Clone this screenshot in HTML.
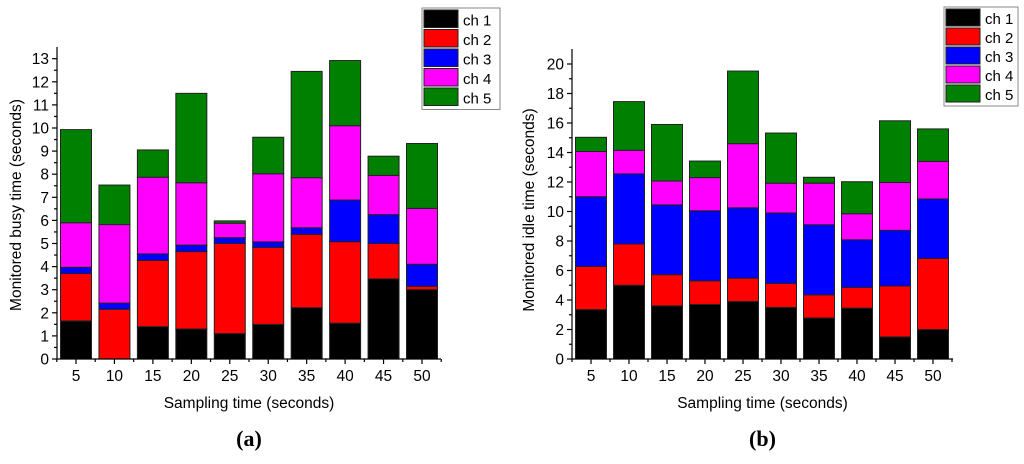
<!DOCTYPE html>
<html><head><meta charset="utf-8"><style>
body{margin:0;background:#fff;width:1024px;height:459px;overflow:hidden}
text{font-family:"Liberation Sans",sans-serif}
</style></head><body>
<svg id="svg" width="1024" height="459"></svg>
<script>
const categories=[5,10,15,20,25,30,35,40,45,50];
const seriesNames=["ch 1","ch 2","ch 3","ch 4","ch 5"];
const colors=["#000000","#ff0000","#0000ff","#ff00ff","#008000"];
const busyCh1=[1.65,0,1.4,1.3,1.1,1.5,2.22,1.55,3.47,3.0];
const busyCh2=[2.05,2.15,2.87,3.35,3.9,3.33,3.18,3.53,1.53,0.15];
const busyCh3=[0.27,0.27,0.28,0.28,0.25,0.24,0.28,1.8,1.25,0.95];
const busyCh4=[1.93,3.4,3.32,2.7,0.63,2.95,2.17,3.22,1.7,2.42];
const busyCh5=[4.03,1.71,1.18,3.87,0.1,1.58,4.6,2.82,0.83,2.81];
const idleCh1=[3.35,5.0,3.6,3.7,3.9,3.5,2.78,3.45,1.5,2.0];
const idleCh2=[2.93,2.8,2.12,1.6,1.58,1.62,1.57,1.4,3.45,4.82];
const idleCh3=[4.72,4.75,4.73,4.75,4.77,4.78,4.75,3.23,3.77,4.03];
const idleCh4=[3.07,1.6,1.62,2.25,4.35,2.02,2.82,1.77,3.25,2.55];
const idleCh5=[0.96,3.3,3.83,1.12,4.92,3.4,0.4,2.17,4.18,2.2];
const busyTicks=[0,1,2,3,4,5,6,7,8,9,10,11,12,13];
const idleTicks=[0,2,4,6,8,10,12,14,16,18,20];

const svg=document.getElementById('svg');
const NS='http://www.w3.org/2000/svg';
function mk(tag,attrs,parent){const e=document.createElementNS(NS,tag);for(const k in attrs)e.setAttribute(k,attrs[k]);(parent||svg).appendChild(e);return e;}

function chart(o){
  const g=mk('g',{});
  
  
  const y=v=>o.y0-(v-o.ymin)*(o.y0-o.yTopVal)/(o.ymaxVal);
  const x=i=>o.c0+i*(o.c1-o.c0)/(categories.length-1);
  const sp=(o.c1-o.c0)/(categories.length-1);
  categories.forEach((c,i)=>{
    let acc=0;
    o.series.forEach((s,k)=>{
      const v=s[i];
      const r=mk('rect',{x:x(i)-o.bw/2,y:y(acc+v),width:o.bw,height:Math.max(0,y(acc)-y(acc+v)),fill:colors[k],stroke:'#222','stroke-width':1},g);
      
      
      acc+=v;
    });
  });
  const ax=mk('g',{stroke:'#000','stroke-width':1.2,fill:'none'},g);
  
  
  mk('line',{x1:o.ax0,y1:o.y0,x2:o.ax1,y2:o.y0},ax);
  mk('line',{x1:o.ax0,y1:o.y0,x2:o.ax0,y2:o.axTop},ax);
  o.ticks.forEach((t,j)=>{
    mk('line',{x1:o.ax0-5,y1:y(t),x2:o.ax0,y2:y(t)},ax);
    if(j<o.ticks.length-1){const m=(t+o.ticks[j+1])/2;mk('line',{x1:o.ax0-3,y1:y(m),x2:o.ax0,y2:y(m)},ax);}
    const tl=mk('text',{x:o.ax0-8,y:y(t)+5.5,'text-anchor':'end','font-size':15.5,fill:'#000'},g);
    tl.textContent=t;
    
    
  });
  categories.forEach((c,i)=>{
    mk('line',{x1:x(i),y1:o.y0,x2:x(i),y2:o.y0+5},ax);
    mk('line',{x1:x(i)-sp/2,y1:o.y0,x2:x(i)-sp/2,y2:o.y0+3},ax);
    const tl=mk('text',{x:x(i),y:o.y0+22,'text-anchor':'middle','font-size':15.5,fill:'#000'},g);
    tl.textContent=c;
    
    
  });
  mk('line',{x1:x(9)+sp/2,y1:o.y0,x2:x(9)+sp/2,y2:o.y0+3},ax);
  const xt=mk('text',{x:(o.ax0+o.ax1)/2,y:408,'text-anchor':'middle','font-size':15.5,fill:'#000'},g);
  xt.textContent='Sampling time (seconds)';
  
  
  const yt=mk('text',{x:0,y:0,'text-anchor':'middle','font-size':15.5,fill:'#000',transform:`translate(${o.ytx},${o.yty}) rotate(-90)`},g);
  yt.textContent=o.ytitle;
  
  
  const pl=mk('text',{x:(o.ax0+o.ax1)/2,y:446,'text-anchor':'middle','font-size':22,'font-weight':'bold',fill:'#000'},g);
  pl.style.fontFamily='"Liberation Serif",serif';
  pl.textContent=o.panel;
  
  
  const lg=mk('g',{},g);
  
  
  mk('rect',{x:o.lx,y:o.ly,width:o.lw,height:5*o.lh+4,fill:'#fff',stroke:'#888','stroke-width':1},lg);
  seriesNames.forEach((n,k)=>{
    const e=mk('g',{},lg);
    
    
    mk('rect',{x:o.lx+2,y:o.ly+2+k*o.lh,width:34,height:o.lh-2,fill:colors[k],stroke:'#222'},e);
    const t=mk('text',{x:o.lx+41,y:o.ly+o.lh-2+k*o.lh,'font-size':15,fill:'#000'},e);
    t.textContent=n;
  });
}
chart({name:'busy-chart',series:[busyCh1,busyCh2,busyCh3,busyCh4,busyCh5],ticks:busyTicks,ymin:0,ymaxVal:13,y0:359,yTopVal:58.7,
  c0:76,c1:422,bw:31,ax0:57,ax1:441,axTop:47,ytitle:'Monitored busy time (seconds)',ytx:21,yty:205,panel:'(a)',
  lx:422,ly:8,lw:78,lh:19.5});
chart({name:'idle-chart',series:[idleCh1,idleCh2,idleCh3,idleCh4,idleCh5],ticks:idleTicks,ymin:0,ymaxVal:20,y0:359,yTopVal:64,
  c0:591,c1:933,bw:31,ax0:572,ax1:953,axTop:49,ytitle:'Monitored idle time (seconds)',ytx:534,yty:210,panel:'(b)',
  lx:944,ly:7,lw:74,lh:19});
</script>
</body></html>
